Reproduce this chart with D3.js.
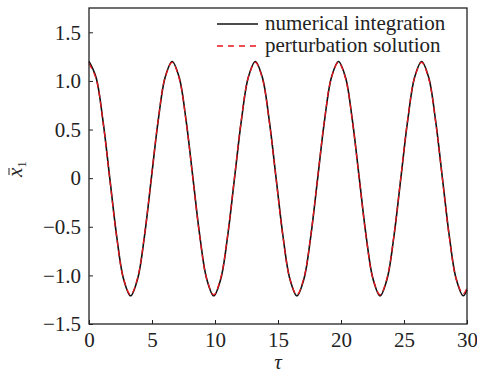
<!DOCTYPE html>
<html>
<head>
<meta charset="utf-8">
<script src="https://cdn.jsdelivr.net/npm/d3@7"></script>
</head>
<body style="margin:0">
<div id="chart"></div>
<script>
// values
var tau = [0, 0.55, 1.1, 1.65, 2.2, 2.75, 3.3, 3.85, 4.4, 4.95, 5.5, 6.05, 6.6,
	7.15, 7.7, 8.25, 8.8, 9.35, 9.9, 10.45, 11.0, 11.55, 12.1, 12.65, 13.2,
	13.75, 14.3, 14.85, 15.4, 15.95, 16.5, 17.05, 17.6, 18.15, 18.7, 19.25, 19.8,
	20.35, 20.9, 21.45, 22.0, 22.55, 23.1, 23.65, 24.2, 24.75, 25.3, 25.85, 26.4,
	26.95, 27.5, 28.05, 28.6, 29.15, 29.7, 30];
var numerical = [1.2, 1.04, 0.6, 0, -0.6, -1.04, -1.21, -1.04, -0.6, 0, 0.6, 1.04, 1.2,
	1.04, 0.6, 0, -0.6, -1.04, -1.21, -1.04, -0.6, 0, 0.6, 1.04, 1.2,
	1.04, 0.6, 0, -0.6, -1.04, -1.21, -1.04, -0.6, 0, 0.6, 1.04, 1.2,
	1.04, 0.6, 0, -0.6, -1.04, -1.21, -1.04, -0.6, 0, 0.6, 1.04, 1.2,
	1.04, 0.6, 0, -0.6, -1.04, -1.21, -1.15];
var perturbation = [1.18, 1.03, 0.59, -0.01, -0.61, -1.04, -1.2, -1.03, -0.59, 0.01, 0.61, 1.04, 1.19,
	1.03, 0.59, -0.01, -0.61, -1.04, -1.2, -1.03, -0.59, 0.01, 0.61, 1.04, 1.19,
	1.03, 0.59, -0.01, -0.61, -1.04, -1.2, -1.03, -0.59, 0.01, 0.61, 1.04, 1.19,
	1.03, 0.59, -0.01, -0.61, -1.04, -1.2, -1.03, -0.59, 0.01, 0.61, 1.04, 1.19,
	1.03, 0.59, -0.01, -0.61, -1.04, -1.19, -1.13];
var xTicks = [0, 5, 10, 15, 20, 25, 30];
var yTicks = [-1.5, -1.0, -0.5, 0, 0.5, 1.0, 1.5];
var legendNames = ["numerical integration", "perturbation solution"];

var FONT = "'Liberation Serif'";
var W = 477, H = 374;
var margin = {left: 89, right: 10, top: 8, bottom: 50};
var w = W - margin.left - margin.right;
var h = H - margin.top - margin.bottom;

var svg = d3.select("#chart").append("svg")
	.attr("width", W)
	.attr("height", H)
	.style("font-family", FONT);

var g = svg.append("g")
	.attr("transform", "translate(" + margin.left + "," + margin.top + ")");

var x = d3.scaleLinear().domain([0, 30]).range([0, w]);
var y = d3.scaleLinear().domain([-1.5, 1.75]).range([h, 0]);

function fmtY(d){
	if (d == 0) return "0";
	return d3.format(".1f")(d).replace("-", "\u2212");
}

// axes, ticks pointing inward
var xAxis = g.append("g")
	.attr("transform", "translate(0," + h + ")")
	.call(d3.axisBottom(x).tickValues(xTicks).tickSizeInner(-4).tickSizeOuter(0).tickPadding(8));
var yAxis = g.append("g")
	.call(d3.axisLeft(y).tickValues(yTicks).tickFormat(fmtY).tickSizeInner(-4).tickSizeOuter(0).tickPadding(8));

[xAxis, yAxis].forEach(function(a){
	a.attr("font-family", null).attr("font-size", null);
	a.select(".domain").remove();
	a.selectAll("line").attr("stroke", "#222").attr("stroke-width", 1);
	a.selectAll("text")
		.attr("font-size", 21)
		.style("font-family", FONT)
		.attr("fill", "#222");
});

// lines
var pts1 = tau.map(function(t, i){ return [t, numerical[i]]; });
var pts2 = tau.map(function(t, i){ return [t, perturbation[i]]; });
var line = d3.line()
	.x(function(d){ return x(d[0]); })
	.y(function(d){ return y(d[1]); })
	.curve(d3.curveCatmullRom.alpha(0.5));

g.append("path")
	.datum(pts1)
	.attr("d", line)
	.attr("fill", "none")
	.attr("stroke", "#111")
	.attr("stroke-width", 1.6);

g.append("path")
	.datum(pts2)
	.attr("d", line)
	.attr("fill", "none")
	.attr("stroke", "#e8141b")
	.attr("stroke-width", 1.3)
	.attr("stroke-dasharray", "6,4");

// frame
g.append("rect")
	.attr("width", w)
	.attr("height", h)
	.attr("fill", "none")
	.attr("stroke", "#222")
	.attr("stroke-width", 1.3);

// legend
var leg = g.append("g").attr("transform", "translate(" + (217 - margin.left) + "," + (24 - margin.top) + ")");
leg.append("line").attr("x1", 0).attr("x2", 41).attr("y1", 0).attr("y2", 0)
	.attr("stroke", "#111").attr("stroke-width", 1.4);
leg.append("line").attr("x1", 0).attr("x2", 41).attr("y1", 22).attr("y2", 22)
	.attr("stroke", "#e8141b").attr("stroke-width", 1.4).attr("stroke-dasharray", "6,5");
leg.selectAll(".lt")
	.data(legendNames)
	.enter()
	.append("text")
	.attr("class", "lt")
	.attr("x", 48)
	.attr("y", function(d, i){ return i * 22 + 6; })
	.attr("font-size", 21)
	.style("font-family", FONT)
	.attr("fill", "#222")
	.text(function(d){ return d; });

// axis titles
svg.append("text")
	.attr("x", margin.left + w / 2)
	.attr("y", 369)
	.attr("text-anchor", "middle")
	.attr("font-size", 21)
	.style("font-family", FONT)
	.attr("font-style", "italic")
	.attr("fill", "#222")
	.text("\u03c4");

var ylg = svg.append("g")
	.attr("transform", "translate(22,166) rotate(-90)");
var yl = ylg.append("text")
	.attr("x", -11)
	.attr("y", 0)
	.attr("font-size", 21)
	.style("font-family", FONT)
	.attr("fill", "#222");
yl.append("tspan").attr("font-style", "italic").text("x");
yl.append("tspan").attr("font-size", 13).attr("dy", 4).text("1");
ylg.append("line")
	.attr("x1", -9).attr("x2", -2)
	.attr("y1", -13).attr("y2", -13)
	.attr("stroke", "#222").attr("stroke-width", 1);
</script>
</body>
</html>
